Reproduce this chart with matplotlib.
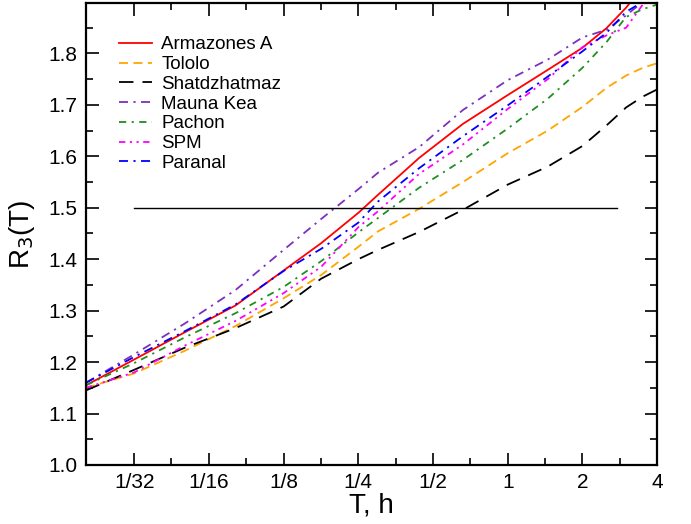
import numpy as np
import matplotlib
matplotlib.use("Agg")
import matplotlib.pyplot as plt
from matplotlib.ticker import FixedLocator, FixedFormatter, NullFormatter

### DATA ###

# averaging time, hours
T_HOURS = [0.02, 0.03125, 0.05, 0.08, 0.125, 0.177, 0.25, 0.30, 0.44,
           0.66, 1.0, 1.45, 2.0, 2.5, 3.0, 3.5, 4.0]

R3_ARMAZONES = [1.155, 1.205, 1.258, 1.31, 1.378, 1.431, 1.49, 1.525, 1.597,
                1.663, 1.719, 1.768, 1.811, 1.849, 1.889, 1.93, 1.97]
R3_TOLOLO = [1.15, 1.178, 1.222, 1.270, 1.324, 1.369, 1.424, 1.454, 1.498,
             1.55, 1.606, 1.65, 1.696, 1.733, 1.757, 1.772, 1.781]
R3_SHATD = [1.145, 1.185, 1.228, 1.266, 1.308, 1.362, 1.40, 1.418, 1.453,
            1.496, 1.545, 1.58, 1.62, 1.66, 1.695, 1.716, 1.73]
R3_MAUNAKEA = [1.16, 1.215, 1.275, 1.34, 1.418, 1.478, 1.536, 1.568, 1.618,
               1.69, 1.748, 1.788, 1.831, 1.846, 1.874, 1.90, 1.93]
R3_PACHON = [1.155, 1.198, 1.248, 1.295, 1.346, 1.396, 1.452, 1.48, 1.539,
             1.593, 1.654, 1.712, 1.772, 1.822, 1.871, 1.886, 1.895]
R3_SPM = [1.15, 1.18, 1.232, 1.28, 1.334, 1.385, 1.462, 1.493, 1.566,
          1.623, 1.692, 1.75, 1.812, 1.835, 1.85, 1.895, 1.93]
R3_PARANAL = [1.16, 1.21, 1.26, 1.312, 1.377, 1.42, 1.471, 1.512, 1.577,
              1.639, 1.699, 1.755, 1.804, 1.84, 1.881, 1.90, 1.94]

SITES = ["Armazones A", "Tololo", "Shatdzhatmaz", "Mauna Kea", "Pachon", "SPM", "Paranal"]

X_TICKS = [1/32, 1/16, 1/8, 1/4, 1/2, 1, 2, 4]
X_TICK_LABELS = ["1/32", "1/16", "1/8", "1/4", "1/2", "1", "2", "4"]
Y_TICKS = [1.0, 1.1, 1.2, 1.3, 1.4, 1.5, 1.6, 1.7, 1.8]

REF_LEVEL = 1.5
REF_SPAN = (1/32, 2.75)

### PLOT ###

plt.rcParams["font.family"] = ["Liberation Sans", "DejaVu Sans"]

fig = plt.figure(figsize=(6.91, 5.24), dpi=100)
ax = fig.add_axes([0.1245, 0.1126, 0.8265, 0.8817])

styles = [
    dict(color="#ff0000", linestyle="-"),
    dict(color="#ffa500", dashes=(5, 3)),
    dict(color="black", dashes=(8, 5)),
    dict(color="#7b30c0", dashes=(5, 3, 1.2, 3)),
    dict(color="#1f8f1f", dashes=(4, 3, 1.2, 3)),
    dict(color="#ff00ff", dashes=(3.5, 2.5, 1.2, 2.5, 1.2, 2.5)),
    dict(color="#0000ff", dashes=(5, 3, 1.2, 3)),
]
series = [R3_ARMAZONES, R3_TOLOLO, R3_SHATD, R3_MAUNAKEA, R3_PACHON, R3_SPM, R3_PARANAL]

for name, vals, st in zip(SITES, series, styles):
    ax.plot(T_HOURS, vals, label=name, linewidth=1.3, **st)

# reference level
ax.plot(REF_SPAN, [REF_LEVEL, REF_LEVEL], color="black", linewidth=1.0)

ax.set_xscale("log", base=2)
ax.set_xlim(0.02, 4)
ax.set_ylim(1.0, 1.898)

ax.xaxis.set_major_locator(FixedLocator(X_TICKS))
ax.xaxis.set_major_formatter(FixedFormatter(X_TICK_LABELS))
ax.xaxis.set_minor_locator(FixedLocator([t * np.sqrt(2) for t in X_TICKS[:-1]]))
ax.xaxis.set_minor_formatter(NullFormatter())
ax.yaxis.set_major_locator(FixedLocator(Y_TICKS))
ax.yaxis.set_major_formatter(FixedFormatter([f"{v:.1f}" for v in Y_TICKS]))
ax.yaxis.set_minor_locator(FixedLocator(np.arange(1.05, 1.9, 0.1)))
ax.yaxis.set_minor_formatter(NullFormatter())

ax.tick_params(which="both", direction="in", top=True, right=True, width=1.2, labelsize=15)
ax.tick_params(which="major", length=9, pad=6)
ax.tick_params(which="minor", length=5)
for sp in ax.spines.values():
    sp.set_linewidth(1.6)

ax.set_xlabel("T, h", fontsize=20, labelpad=0)
ax.set_ylabel(r"R$_3$(T)", fontsize=20, labelpad=8)

ax.legend(loc="upper left", bbox_to_anchor=(0.058, 0.928), frameon=False, fontsize=13.5,
          handlelength=1.75, handletextpad=0.5, labelspacing=0.14, borderpad=0,
          borderaxespad=0)

fig.savefig("out.png", dpi=100)
